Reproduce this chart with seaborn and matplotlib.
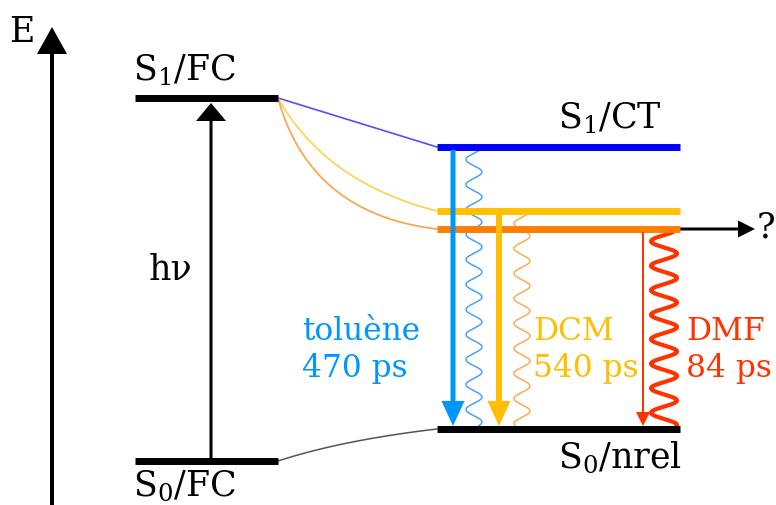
import numpy as np
import pandas as pd
import matplotlib
matplotlib.use("Agg")
import matplotlib.pyplot as plt
import seaborn as sns

# ── data: energy levels (picture energy scale, arbitrary units) ─────────
level_names  = ["S1/FC", "S0/FC", "S1/CT", "CT_DCM", "CT_DMF", "S0/nrel"]
level_energy = [407, 44, 358, 294, 276, 76]
level_side   = ["FC", "FC", "CT", "CT", "CT", "CT"]
level_colors = ["#000000", "#000000", "#0000FF", "#FFC000", "#FF8000", "#000000"]

# solvents: radiative / non-radiative decay from their CT state
solvents       = ["toluène", "DCM", "DMF"]
solvent_levels = ["S1/CT", "CT_DCM", "CT_DMF"]
lifetime_ps    = [470, 540, 84]
solvent_colors = ["#0096FF", "#FFBF00", "#FF3300"]
wave_colors    = ["#3A9BFF", "#FFA447", "#FF3300"]
curve_colors   = ["#5050FF", "#FFD04A", "#FFA04A"]

# ── layout ──────────────────────────────────────────────────────────────
W, H = 776, 506
FS = 25        # state labels
FS_SOLV = 22.5 # solvent / lifetime labels
cols = {"FC": (135, 278), "CT": (437, 680)}
E = dict(zip(level_names, level_energy))

sns.set_theme(style="white")
plt.rcParams["font.family"] = ["DejaVu Serif"]
plt.rcParams["mathtext.fontset"] = "dejavuserif"
plt.rcParams["text.color"] = "black"

fig = plt.figure(figsize=(W / 100, H / 100), dpi=100)
ax = fig.add_axes([0, 0, 1, 1])
ax.set_xlim(0, W)
ax.set_ylim(0, H)
ax.axis("off")

# levels as short horizontal segments
rows = []
for name, en, side in zip(level_names, level_energy, level_side):
    for x in cols[side]:
        rows.append({"level": name, "x": x, "E": en})
lv = pd.DataFrame(rows)
sns.lineplot(data=lv, x="x", y="E", hue="level", units="level", estimator=None,
             palette=dict(zip(level_names, level_colors)), linewidth=5,
             legend=False, sort=False, ax=ax, solid_capstyle="butt", zorder=3)


def bezier(p0, p1, p2, n=80):
    t = np.linspace(0, 1, n)[:, None]
    return (1 - t) ** 2 * p0 + 2 * (1 - t) * t * p1 + t ** 2 * p2


def link(a, b, fx, fy, color, lw):
    p0 = np.array([cols["FC"][1], E[a]])
    p2 = np.array([cols["CT"][0], E[b]])
    p1 = np.array([p0[0] + fx * (p2[0] - p0[0]), p0[1] + fy * (p2[1] - p0[1])])
    pts = bezier(p0, p1, p2)
    ax.plot(pts[:, 0], pts[:, 1], color=color, lw=lw, zorder=2)


# relaxation from Franck-Condon to the CT states
bends = [(0.5, 0.5), (0.3, 0.75), (0.2, 0.885)]
for lvl, (fx, fy), c in zip(solvent_levels, bends, curve_colors):
    link("S1/FC", lvl, fx, fy, c, 1.2)
link("S0/FC", "S0/nrel", 0.4, 0.65, "#555555", 1.1)

# energy axis and excitation
ax.arrow(52, 0, 0, H - 28, width=4, head_width=30, head_length=27,
         length_includes_head=True, color="black", lw=0, zorder=4)
ax.text(22, H - 32, "E", ha="center", va="center", fontsize=FS)
ax.arrow(211, E["S0/FC"], 0, E["S1/FC"] - 5 - E["S0/FC"], width=3,
         head_width=30, head_length=18, length_includes_head=True,
         color="black", lw=0, zorder=4)
ax.text(171, H - 270, "hν", ha="center", va="center", fontsize=FS)
ax.arrow(cols["CT"][1], E["CT_DMF"], 75, 0, width=3, head_width=17,
         head_length=17, length_includes_head=True, color="black", lw=0)
ax.text(766, E["CT_DMF"] + 3, "?", ha="center", va="center", fontsize=FS)

# decay arrows (thick = radiative, thin = non-radiative arrow for DMF)
arrow_x = [453, 499, 643]
arrow_w = [5, 6, 2]
head_w  = [23, 23, 14]
head_l  = [25, 25, 14]
tip = E["S0/nrel"] + 3
for lvl, x, w, hw, hl, c in zip(solvent_levels, arrow_x, arrow_w, head_w, head_l, solvent_colors):
    ax.arrow(x, E[lvl] - 3, 0, tip - E[lvl] + 3, width=w, head_width=hw,
             head_length=hl, length_includes_head=True, color=c, lw=0, zorder=4)

# wavy non-radiative paths
wave_x   = [474, 522, 664]
wave_amp = [8, 8, 13]
wave_per = [25, 25, 24.5]
wave_lw  = [1.0, 1.0, 3.0]
for lvl, x0, amp, per, lw, c in zip(solvent_levels, wave_x, wave_amp, wave_per, wave_lw, wave_colors):
    y = np.linspace(E[lvl] - 3, E["S0/nrel"] + 3, 600)
    x = x0 + amp * np.cos(2 * np.pi * (E[lvl] - y) / per)
    ax.plot(x, y, color=c, lw=lw, zorder=2)

# solvent labels
label_x = [302, 533, 686]
for name, tau, x, c in zip(solvents, lifetime_ps, label_x, solvent_colors):
    ax.text(x, H - 331, name, ha="left", va="center", fontsize=FS_SOLV, color=c)
    ax.text(x, H - 369, f"{tau} ps", ha="left", va="center", fontsize=FS_SOLV, color=c)

# state labels
ax.text(133, H - 70, r"S$_1$/FC", ha="left", va="center", fontsize=FS)
ax.text(133, H - 487, r"S$_0$/FC", ha="left", va="center", fontsize=FS)
ax.text(558, H - 118, r"S$_1$/CT", ha="left", va="center", fontsize=FS)
ax.text(558, H - 458, r"S$_0$/nrel", ha="left", va="center", fontsize=FS)

fig.savefig("out.png", dpi=100)
